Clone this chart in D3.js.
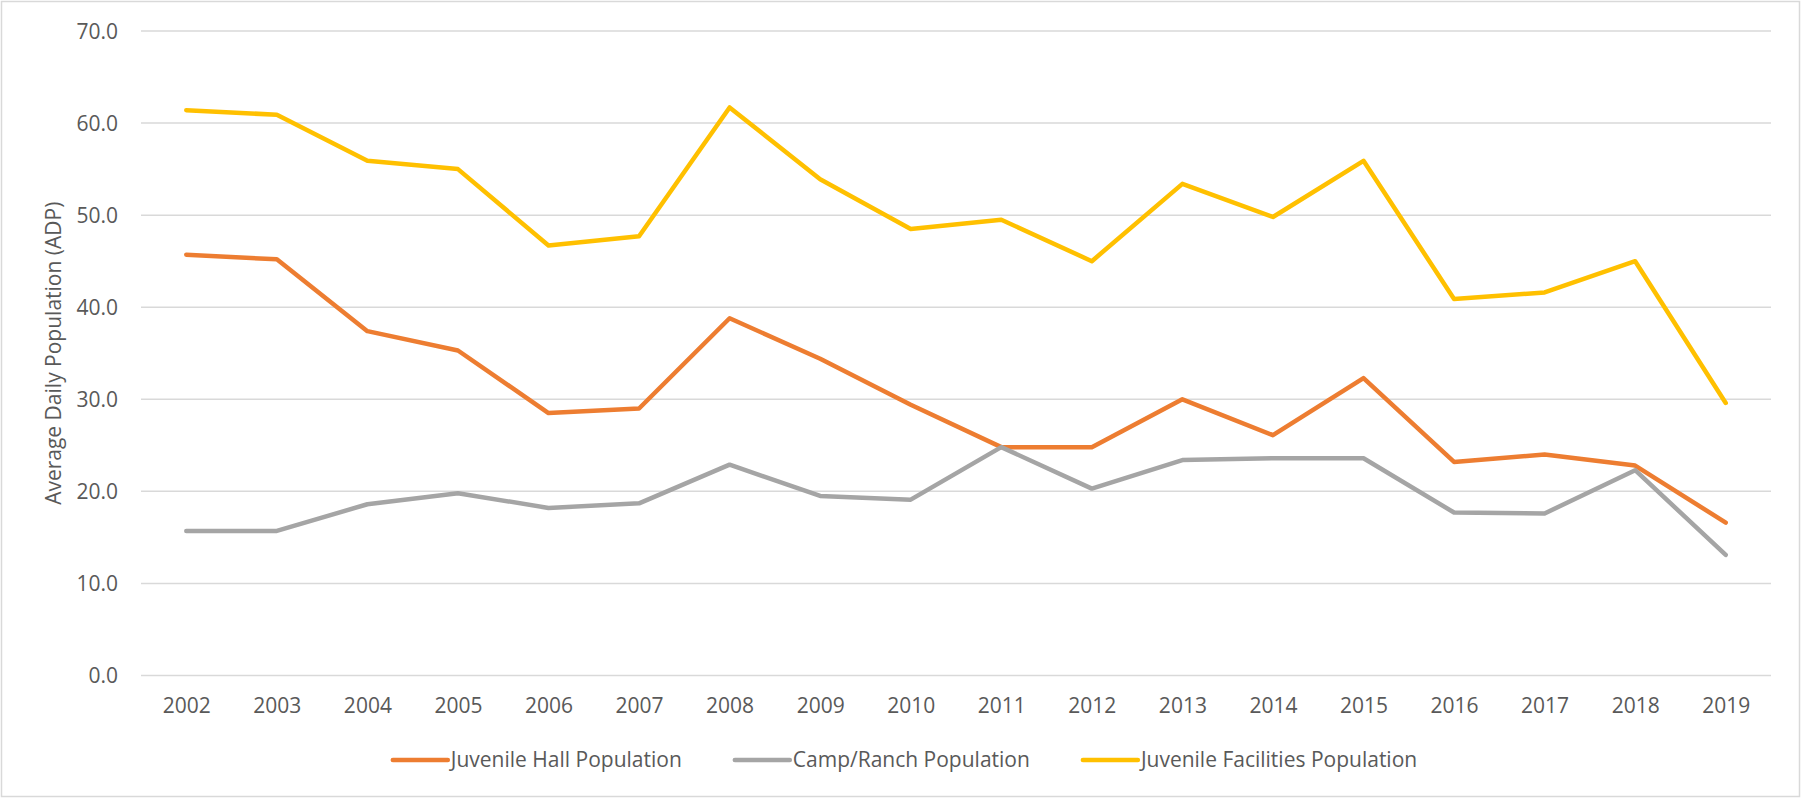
<!DOCTYPE html>
<html>
<head>
<meta charset="utf-8">
<script src="https://cdn.jsdelivr.net/npm/d3@7"></script>
<style>
  html, body { margin: 0; padding: 0; background: #fff; }
  svg { display: block; }
  text { font-family: "Open Sans", sans-serif; fill: #595959; }
</style>
</head>
<body>
<svg id="chart" width="1801" height="798"></svg>
<script>
const years = ["2002","2003","2004","2005","2006","2007","2008","2009","2010","2011","2012","2013","2014","2015","2016","2017","2018","2019"];
const juvenileHall = [45.7, 45.2, 37.4, 35.3, 28.5, 29.0, 38.8, 34.4, 29.4, 24.8, 24.8, 30.0, 26.1, 32.3, 23.2, 24.0, 22.8, 16.6];
const campRanch = [15.7, 15.7, 18.6, 19.8, 18.2, 18.7, 22.9, 19.5, 19.1, 24.8, 20.3, 23.4, 23.6, 23.6, 17.7, 17.6, 22.3, 13.1];
const juvenileFacilities = [61.4, 60.9, 55.9, 55.0, 46.7, 47.7, 61.7, 53.9, 48.5, 49.5, 45.0, 53.4, 49.8, 55.9, 40.9, 41.6, 45.0, 29.6];
const yTicks = [0, 10, 20, 30, 40, 50, 60, 70];
const seriesNames = ["Juvenile Hall Population", "Camp/Ranch Population", "Juvenile Facilities Population"];
const seriesColors = ["#ED7D31", "#A5A5A5", "#FFC000"];
const yTitle = "Average Daily Population (ADP)";

const series = [juvenileHall, campRanch, juvenileFacilities];

const svg = d3.select("#chart");
const W = 1801, H = 798;
const plot = { left: 141, right: 1771, top: 31, bottom: 675.5 };

// chart border
svg.append("rect")
  .attr("x", 1.5).attr("y", 1.5)
  .attr("width", W - 3).attr("height", H - 3)
  .attr("fill", "#fff").attr("stroke", "#d9d9d9").attr("stroke-width", 1.5);

const x = d3.scalePoint().domain(years).range([plot.left, plot.right]).padding(0.5);
const y = d3.scaleLinear().domain([0, 70]).range([plot.bottom, plot.top]);

// gridlines
svg.append("g").selectAll("line").data(yTicks).join("line")
  .attr("x1", plot.left).attr("x2", plot.right)
  .attr("y1", d => y(d)).attr("y2", d => y(d))
  .attr("stroke", "#d9d9d9").attr("stroke-width", 1.5);

// y axis labels
const yAxis = d3.axisLeft(y).tickValues(yTicks).tickFormat(d3.format(".1f")).tickSize(0).tickPadding(0);
const yg = svg.append("g").attr("transform", `translate(${118},0)`).call(yAxis);
yg.select(".domain").remove();
yg.selectAll("text").attr("font-size", 21).attr("font-family", "Open Sans").attr("fill", "#595959").attr("dy", "0.35em");

// x axis labels
const xAxis = d3.axisBottom(x).tickSize(0).tickPadding(0);
const xg = svg.append("g").attr("transform", `translate(0,${706})`).call(xAxis);
xg.select(".domain").remove();
xg.selectAll("text").attr("font-size", 21).attr("font-family", "Open Sans").attr("fill", "#595959").attr("dy", "0.35em");

// y title
svg.append("text")
  .attr("transform", `translate(53.5,${(plot.top + plot.bottom) / 2}) rotate(-90)`)
  .attr("text-anchor", "middle").attr("dy", "0.35em")
  .attr("font-size", 21)
  .text(yTitle);

// lines
const line = d3.line().x((d, i) => x(years[i])).y(d => y(d));
svg.append("g").selectAll("path").data(series).join("path")
  .attr("d", d => line(d))
  .attr("fill", "none")
  .attr("stroke", (d, i) => seriesColors[i])
  .attr("stroke-width", 4.5)
  .attr("stroke-linejoin", "round")
  .attr("stroke-linecap", "round");

// legend
const legend = svg.append("g");
const swatchW = 55, swatchGap = 3, itemGap = 53, legendY = 760;
const items = legend.selectAll("g").data(seriesNames).join("g");
items.append("line")
  .attr("x1", 0).attr("x2", swatchW).attr("y1", legendY).attr("y2", legendY)
  .attr("stroke", (d, i) => seriesColors[i]).attr("stroke-width", 4.5).attr("stroke-linecap", "round");
items.append("text")
  .attr("x", swatchW + swatchGap).attr("y", legendY).attr("dy", "0.35em")
  .attr("font-size", 21)
  .text(d => d);
let widths = [];
items.each(function() {
  const t = d3.select(this).select("text").node().getComputedTextLength();
  widths.push(swatchW + swatchGap + t);
});
const total = d3.sum(widths) + itemGap * (widths.length - 1);
let cx = 905 - total / 2;
items.attr("transform", (d, i) => {
  const tx = cx;
  cx += widths[i] + itemGap;
  return `translate(${tx},0)`;
});
</script>
</body>
</html>
